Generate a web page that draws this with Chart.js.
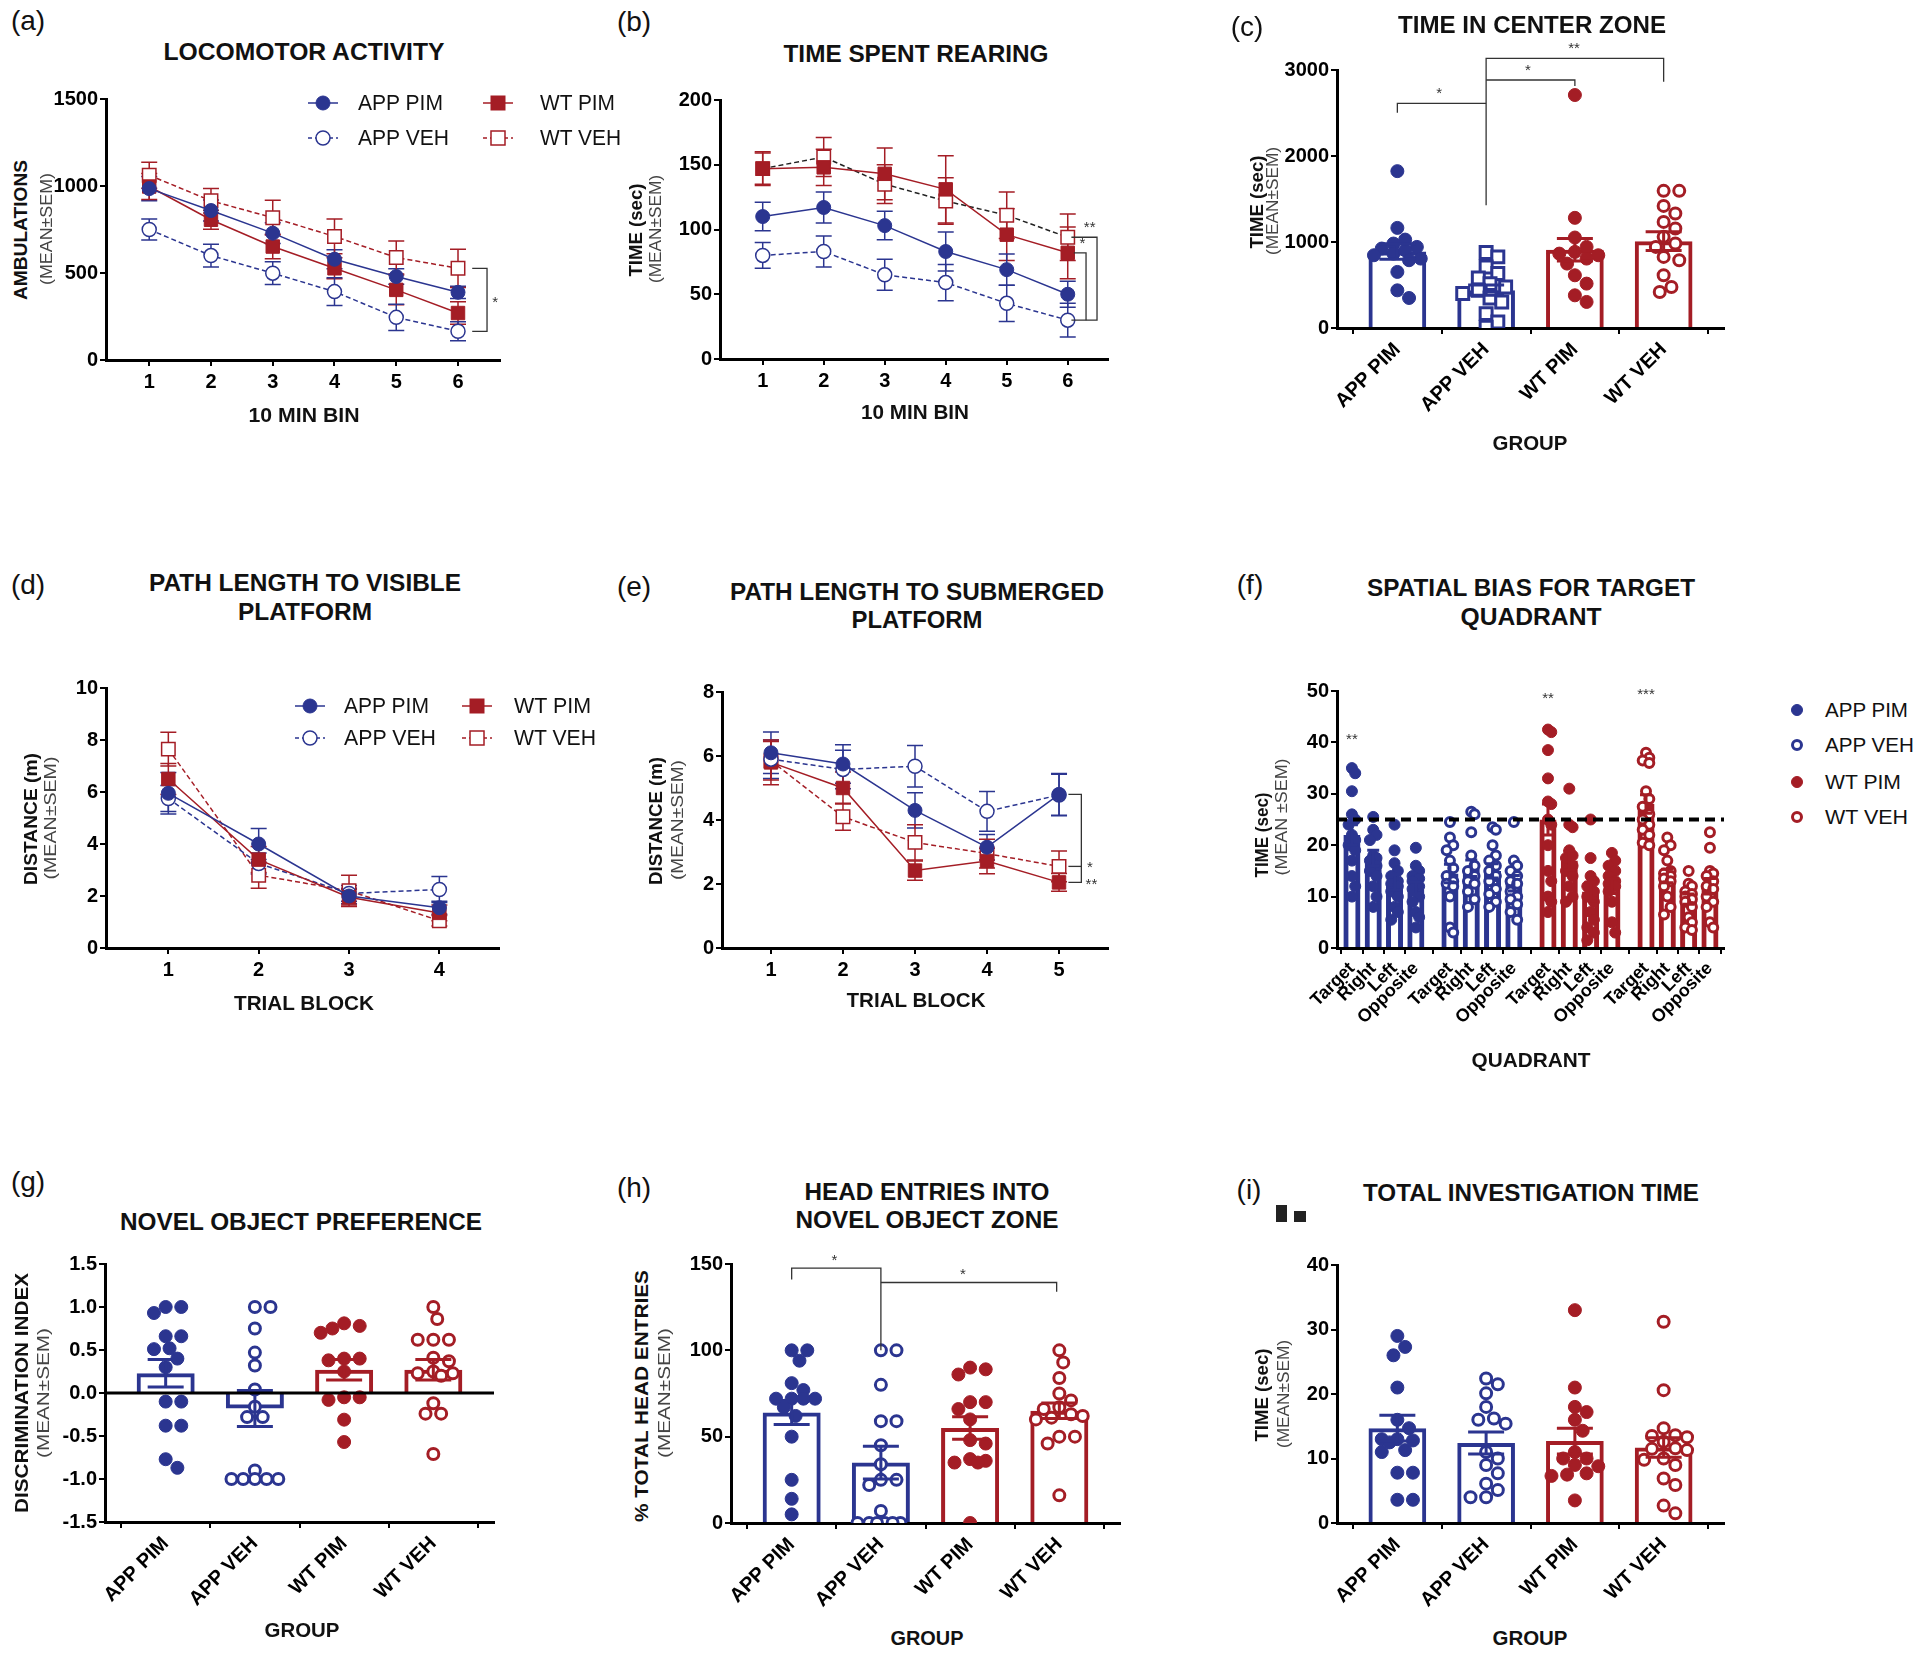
<!DOCTYPE html>
<html>
<head>
<meta charset="utf-8">
<script src="https://cdn.jsdelivr.net/npm/chart.js@4.4.1/dist/chart.umd.min.js"></script>
<style>
  html, body { margin: 0; padding: 0; background: #fff; }
  #page { position: relative; width: 1920px; height: 1657px; overflow: hidden; background: #fff; }
  canvas { position: absolute; }
  .txt { position: absolute; left: 0; top: 0; white-space: nowrap; line-height: 1; transform-origin: 0 0;
         color: #111; font-family: 'Liberation Sans', Arial, Helvetica, sans-serif; }
</style>
</head>
<body>
<div id="page"></div>
<script>
// ---- data ----
const groups = ['APP PIM', 'APP VEH', 'WT PIM', 'WT VEH'];
const quads = ['Target', 'Right', 'Left', 'Opposite'];

// (a) locomotor activity
const binsA = [1, 2, 3, 4, 5, 6];
const locoAppPim = [985, 859, 729, 579, 480, 389];
const locoAppVeh = [750, 600, 499, 393, 245, 165];
const locoWtPim = [997, 806, 652, 527, 403, 270];
const locoWtVeh = [1062, 915, 818, 710, 589, 527];
const locoAppPimSem = [70, 60, 60, 55, 45, 35];
const locoAppVehSem = [60, 65, 65, 80, 75, 55];
const locoWtPimSem = [75, 55, 70, 60, 85, 65];
const locoWtVehSem = [75, 70, 100, 100, 95, 110];

// (b) time spent rearing
const rearAppPim = [110, 117, 103, 83, 69, 50];
const rearAppVeh = [80, 83, 65, 59, 43, 30];
const rearWtPim = [147, 148, 143, 131, 96, 82];
const rearWtVeh = [147, 156, 135, 122, 111, 94];
const rearAppPimSem = [11, 12, 11, 15, 12, 10];
const rearAppVehSem = [10, 12, 12, 14, 14, 13];
const rearWtPimSem = [13, 14, 20, 26, 20, 20];
const rearWtVehSem = [12, 15, 15, 18, 18, 18];

// (c) time in center zone
const centerMean = [890, 440, 910, 1010];
const centerSem = [90, 60, 130, 110];
const centerAppPim = [1824, 1164, 1028, 982, 943, 924, 904, 865, 846, 807, 788, 652, 438, 349];
const centerAppVeh = [877, 827, 710, 633, 582, 516, 477, 438, 400, 349, 303, 167, 70, 10];
const centerWtPim = [2709, 1281, 1052, 943, 885, 865, 846, 807, 749, 613, 516, 380, 303];
const centerWtVeh = [1595, 1595, 1420, 1331, 1234, 1157, 1060, 982, 943, 827, 788, 613, 477, 419];

// (d) visible platform
const blocksD = [1, 2, 3, 4];
const visAppPim = [5.95, 4.0, 2.0, 1.55];
const visAppVeh = [5.75, 3.25, 2.1, 2.25];
const visWtPim = [6.5, 3.4, 1.95, 1.35];
const visWtVeh = [7.65, 2.8, 2.2, 1.05];
const visAppPimSem = [0.8, 0.6, 0.3, 0.25];
const visAppVehSem = [0.5, 0.4, 0.3, 0.5];
const visWtPimSem = [0.6, 0.5, 0.3, 0.3];
const visWtVehSem = [0.65, 0.5, 0.6, 0.2];

// (e) submerged platform
const blocksE = [1, 2, 3, 4, 5];
const subAppPim = [6.1, 5.75, 4.3, 3.15, 4.8];
const subAppVeh = [5.9, 5.58, 5.68, 4.27, 4.78];
const subWtPim = [5.8, 5.0, 2.42, 2.72, 2.05];
const subWtVeh = [5.85, 4.1, 3.3, 2.95, 2.55];
const subAppPimSem = [0.65, 0.6, 0.55, 0.4, 0.65];
const subAppVehSem = [0.6, 0.6, 0.65, 0.62, 0.65];
const subWtPimSem = [0.7, 0.5, 0.3, 0.4, 0.28];
const subWtVehSem = [0.6, 0.42, 0.55, 0.45, 0.48];

// (f) spatial bias, per group: Target, Right, Left, Opposite
const biasMean = [22, 17.5, 12.8, 11.6, 14.5, 15.5, 15, 12.6, 25, 17, 11, 12, 28, 14, 9.5, 12];
const biasSem = [2, 1.5, 1.5, 1.2, 1.8, 1.6, 1.4, 1.5, 3, 1.8, 1.8, 1.4, 1.8, 1.3, 1, 1.5];
const biasAppPim = [
  [35, 34, 30.5, 26, 25, 24, 22, 21, 20, 19, 17, 14, 12, 10],
  [25.5, 23, 22, 21, 18, 17.5, 17, 16, 15, 14, 12, 10, 8],
  [24, 19, 16.5, 15, 14, 13, 12.5, 12, 11, 10, 8, 7, 5.5],
  [19.5, 16, 15, 14, 13.5, 13, 12, 11.5, 10, 9, 7, 6, 4]];
const biasAppVeh = [
  [24.5, 21.5, 20, 19, 17, 15.5, 14, 13, 12.5, 12, 10, 4, 3],
  [26.5, 26, 22.5, 18, 16, 15, 14, 13, 12.5, 11, 9.5, 8],
  [23.5, 23, 20, 18, 17, 16, 15, 14, 13, 11.5, 10.5, 9, 8],
  [24.5, 17, 16, 15, 14, 13, 12.5, 11, 10, 9.5, 8.5, 7, 5.5]];
const biasWtPim = [
  [42.5, 42, 38.5, 33, 28.5, 28, 25, 24, 20, 15, 13, 10, 9, 7],
  [31, 24, 23.5, 19, 18, 17.5, 16, 15, 14, 12, 10, 9],
  [25, 17.5, 14, 13, 12, 11, 10, 9, 7, 5.5, 4, 3, 1.5],
  [18.5, 17, 16, 15, 14, 13, 12.5, 12, 11, 9, 5, 3]];
const biasWtVeh = [
  [38, 37, 36.5, 36, 30.5, 29, 27.5, 26, 25, 24, 23, 22, 20.5, 20],
  [21.5, 20, 19, 17, 15, 14.5, 14, 13.5, 13, 12, 10, 8, 6.5],
  [15, 12.5, 12, 11, 10.5, 10, 9.5, 9, 8, 6, 5, 4, 3.5],
  [22.5, 19.5, 15, 14.5, 14, 13, 12, 11.5, 10, 9, 8, 5, 4]];

// (g) novel object preference
const prefMean = [0.23, -0.18, 0.27, 0.27];
const prefSem = [0.16, 0.21, 0.12, 0.12];
const prefAppPim = [1.0, 1.0, 0.93, 0.66, 0.66, 0.52, 0.51, 0.40, 0.30, -0.10, -0.10, -0.38, -0.38, -0.77, -0.87];
const prefAppVeh = [1.0, 1.0, 0.75, 0.47, 0.32, 0.04, -0.16, -0.28, -0.28, -0.9, -1.0, -1.0, -1.0, -1.0, -1.0];
const prefWtPim = [0.81, 0.78, 0.75, 0.70, 0.40, 0.40, 0.38, 0.25, -0.05, -0.05, -0.08, -0.31, -0.57];
const prefWtVeh = [1.0, 0.86, 0.62, 0.62, 0.62, 0.41, 0.37, 0.25, 0.23, 0.23, 0.20, -0.12, -0.24, -0.24, -0.71];

// (h) head entries
const headMean = [64, 35, 55, 65];
const headSem = [7, 9.5, 6.5, 4.5];
const headAppPim = [100, 100, 94, 81, 77, 72, 72, 72, 72, 67, 62, 50, 25, 14, 5];
const headAppVeh = [100, 100, 80, 59, 59, 45, 34, 25, 25, 22, 7, 0, 0, 0, 0, 0, 0];
const headWtPim = [90, 89, 86, 70, 70, 66, 60, 48, 46, 37, 36, 35, 35, 0];
const headWtVeh = [100, 93, 84, 75, 71, 67, 66, 63, 62, 61, 60, 50, 50, 46, 16];

// (i) total investigation time
const invMean = [14.7, 12.4, 12.7, 11.7];
const invSem = [2.0, 1.7, 2.0, 1.5];
const invAppPim = [29, 27.3, 26, 21, 16, 14.7, 13, 13, 12.8, 12.5, 11.3, 11, 7.8, 7.8, 3.6, 3.6];
const invAppVeh = [22.4, 21.5, 20.1, 18, 16.2, 16, 15.4, 11, 10, 9, 7.7, 6.1, 5.1, 4, 4];
const invWtPim = [33, 21, 18, 17.2, 16, 14.3, 11, 10, 10, 9, 8.8, 7.7, 7.5, 7.3, 3.5];
const invWtVeh = [31.2, 20.6, 14.7, 13.6, 13.5, 13.3, 12.6, 11.6, 11.5, 11.3, 10, 9.8, 9, 6.9, 5.9, 2.7, 1.5];

// ---- style ----
const page = document.getElementById('page');
const FONT = "'Liberation Sans', Arial, Helvetica, sans-serif";
const BLUE = '#2b3590', RED = '#a41d25';
Chart.defaults.font.family = FONT;
Chart.defaults.color = '#000';

const S = {
  appPim: { color: BLUE, dash: [], shape: 'circle', fill: true },
  appVeh: { color: BLUE, dash: [5, 3], shape: 'circle', fill: false },
  wtPim: { color: RED, dash: [], shape: 'rect', fill: true },
  wtVeh: { color: RED, dash: [5, 3], shape: 'rect', fill: false }
};
const D = {
  fillB: { color: BLUE, shape: 'circle', fill: true },
  openB: { color: BLUE, shape: 'circle', fill: false },
  sqB: { color: BLUE, shape: 'rect', fill: false },
  fillR: { color: RED, shape: 'circle', fill: true },
  openR: { color: RED, shape: 'circle', fill: false }
};

// ---- plugins ----
function drawErr(chart, behind) {
  const ctx = chart.ctx, ys = chart.scales.y;
  chart.data.datasets.forEach((ds, i) => {
    if (!ds.sem || !!ds.errBehind !== behind) return;
    const meta = chart.getDatasetMeta(i);
    ctx.save();
    ctx.lineWidth = ds.errWidth || 1.5;
    meta.data.forEach((el, j) => {
      const v = ds.data[j].y, s = ds.sem[j], c = (ds.capW || 16) / 2;
      const y1 = ys.getPixelForValue(v + s), y2 = ys.getPixelForValue(v - s), x = el.x;
      ctx.strokeStyle = Array.isArray(ds.errColor) ? ds.errColor[j] : ds.errColor;
      ctx.beginPath();
      ctx.moveTo(x, y1); ctx.lineTo(x, y2);
      ctx.moveTo(x - c, y1); ctx.lineTo(x + c, y1);
      ctx.moveTo(x - c, y2); ctx.lineTo(x + c, y2);
      ctx.stroke();
    });
    ctx.restore();
  });
}
const errPlugin = {
  id: 'err',
  beforeDatasetsDraw(chart) { drawErr(chart, true); },
  afterDatasetsDraw(chart) { drawErr(chart, false); }
};

function annot(m) {
  return {
    id: 'annot',
    afterDatasetsDraw(chart) {
      const ctx = chart.ctx, xs = chart.scales.x, ys = chart.scales.y, a = chart.chartArea;
      ctx.save();
      (m.refs || []).forEach(r => {
        const y = ys.getPixelForValue(r.y);
        ctx.beginPath(); ctx.setLineDash(r.dash || []); ctx.lineWidth = r.w; ctx.strokeStyle = '#000';
        ctx.moveTo(a.left, y); ctx.lineTo(a.right, y); ctx.stroke();
      });
      ctx.setLineDash([]);
      ctx.lineWidth = 1.3; ctx.strokeStyle = '#333';
      (m.lines || []).forEach(pl => {
        ctx.beginPath();
        pl.forEach(([x, y], k) => {
          const px = xs.getPixelForValue(x), py = ys.getPixelForValue(y);
          if (k) ctx.lineTo(px, py); else ctx.moveTo(px, py);
        });
        ctx.stroke();
      });
      ctx.fillStyle = '#333'; ctx.font = '15px ' + FONT;
      ctx.textAlign = 'center'; ctx.textBaseline = 'middle';
      (m.stars || []).forEach(s => ctx.fillText(s.t, xs.getPixelForValue(s.x), ys.getPixelForValue(s.y)));
      ctx.restore();
    }
  };
}

// ---- helpers ----
const tickFont = { family: FONT, size: 20, weight: 'bold' };

function panel(box, cfg) {
  const yW = 75, padT = cfg.padT || 20, padR = cfg.padR || 40, xH = cfg.xH || 45;
  const cv = document.createElement('canvas');
  cv.width = box.r - box.l + yW + padR;
  cv.height = box.b - box.t + padT + xH;
  cv.style.left = (box.l - yW) + 'px';
  cv.style.top = (box.t - padT) + 'px';
  page.appendChild(cv);
  const grid = { drawOnChartArea: false, drawTicks: true, tickLength: 6, color: '#000', lineWidth: 2 };
  const border = { display: true, color: '#000', width: 3 };
  return new Chart(cv, {
    type: 'line',
    data: { datasets: cfg.datasets },
    options: {
      responsive: false, animation: false, devicePixelRatio: 1,
      layout: { padding: { top: padT, right: padR, left: 0, bottom: 0 } },
      plugins: { legend: { display: false }, tooltip: { enabled: false } },
      scales: {
        x: {
          type: 'linear', min: cfg.xMin, max: cfg.xMax, offset: false,
          afterBuildTicks: s => { s.ticks = cfg.xTicks.map(v => ({ value: v })); },
          afterFit: s => { s.height = xH; s.paddingLeft = 0; s.paddingRight = 0; },
          ticks: { autoSkip: false, minRotation: cfg.rot || 0, maxRotation: cfg.rot || 0, padding: 4,
                   font: cfg.xFont || tickFont, color: '#000', callback: cfg.xLabel || (v => v) },
          grid, border
        },
        y: {
          min: cfg.yMin, max: cfg.yMax,
          afterFit: s => { s.width = yW; s.paddingTop = 0; s.paddingBottom = 0; },
          ticks: { stepSize: cfg.yStep, padding: 2, font: tickFont, color: '#000', callback: cfg.yFmt || (v => v) },
          grid, border
        }
      }
    },
    plugins: [errPlugin, annot(cfg.marks || {})]
  });
}

function lineSet(xs, ys, sem, st, lineColor) {
  return {
    type: 'line', data: xs.map((x, i) => ({ x, y: ys[i] })), sem, errBehind: true, capW: 16, errWidth: 1.5,
    errColor: st.color, borderColor: lineColor || st.color, borderWidth: 1.5, borderDash: st.dash,
    tension: 0, fill: false, pointStyle: st.shape, pointRadius: st.shape === 'rect' ? 9.5 : 7,
    pointBackgroundColor: st.fill ? st.color : '#fff', pointBorderColor: st.color, pointBorderWidth: st.fill ? 1 : 1.5
  };
}

// simple beeswarm: spread points sideways (in px) so they do not overlap
function swarm(vals, cx, pxX, pxY, r, maxPx) {
  const placed = [], out = [];
  const idx = vals.map((v, i) => i).sort((a, b) => vals[b] - vals[a]);
  idx.forEach(i => {
    const y = vals[i] * pxY;
    let best = 0, bestD = -1;
    for (let k = 0; k < 80; k++) {
      const dx = (k % 2 ? 1 : -1) * Math.ceil(k / 2) * r * 0.6;
      if (Math.abs(dx) > maxPx) break;
      let d = Infinity;
      placed.forEach(p => { d = Math.min(d, Math.hypot(p.x - dx, p.y - y)); });
      if (d >= 2 * r * 0.95) { best = dx; break; }
      if (d > bestD) { bestD = d; best = dx; }
    }
    placed.push({ x: best, y });
    out[i] = { x: cx + best / pxX, y: vals[i] };
  });
  return out;
}

function dotSets(box, cfg, means, sems, colors, pts) {
  const pxX = (box.r - box.l) / (cfg.xMax - cfg.xMin), pxY = (box.b - box.t) / (cfg.yMax - cfg.yMin);
  const r = cfg.r || 6.5;
  const sets = [{
    type: 'bar', order: 5, data: means.map((m, i) => ({ x: cfg.xTicks[i], y: m })),
    sem: sems, errColor: colors, errWidth: 3, capW: cfg.capW || 36,
    backgroundColor: 'rgba(255,255,255,0)', borderColor: colors, borderWidth: cfg.bw || 4,
    borderSkipped: 'start', barPercentage: cfg.barPct || 0.65, categoryPercentage: 1
  }];
  pts.forEach(p => {
    const st = p.st;
    sets.push({
      type: 'scatter', order: 1, showLine: false,
      data: swarm(p.vals, p.x, pxX, pxY, r, cfg.maxPx || 26),
      pointStyle: st.shape, pointRadius: st.shape === 'rect' ? r * 1.3 : (st.fill ? r : r - 1),
      pointBackgroundColor: st.fill ? st.color : '#fff', pointBorderColor: st.color,
      pointBorderWidth: st.fill ? 1 : 3
    });
  });
  return sets;
}

function txt(t, cx, cy, size, bold, w, rot, color, left) {
  const d = document.createElement('div');
  d.className = 'txt';
  d.textContent = t;
  d.style.fontSize = size + 'px';
  d.style.fontWeight = bold ? 'bold' : 'normal';
  if (color) d.style.color = color;
  page.appendChild(d);
  const sx = w ? w / d.getBoundingClientRect().width : 1;
  d.style.transform = `translate(${cx}px, ${cy}px) rotate(${rot || 0}deg) scaleX(${sx}) translate(${left ? 0 : '-50%'}, -50%)`;
}

const NS = 'http://www.w3.org/2000/svg';
function sym(cx, cy, st, line, r, sw) {
  const s = document.createElementNS(NS, 'svg');
  s.setAttribute('width', 40); s.setAttribute('height', 24);
  s.style.cssText = `position:absolute;left:${cx - 20}px;top:${cy - 12}px;overflow:visible`;
  let h = '';
  if (line) h += `<line x1="5" y1="12" x2="35" y2="12" stroke="${st.color}" stroke-width="1.5"${st.dash.length ? ' stroke-dasharray="4 3"' : ''}/>`;
  const fill = st.fill ? st.color : '#fff';
  if (st.shape === 'rect') h += `<rect x="${20 - r}" y="${12 - r}" width="${2 * r}" height="${2 * r}" fill="${fill}" stroke="${st.color}" stroke-width="${sw}"/>`;
  else h += `<circle cx="20" cy="12" r="${r}" fill="${fill}" stroke="${st.color}" stroke-width="${sw}"/>`;
  s.innerHTML = h;
  page.appendChild(s);
}

const grpX = [0, 1, 2, 3];
const grpColors = [BLUE, BLUE, RED, RED];
const grpLabel = (v, i) => groups[i];
const grpFont = { family: FONT, size: 20, weight: 'bold' };

// ---- (a) ----
panel({ l: 106, t: 99, r: 500, b: 360 }, {
  xMin: 0.3, xMax: 6.68, xTicks: binsA, yMin: 0, yMax: 1500, yStep: 500,
  datasets: [
    lineSet(binsA, locoAppPim, locoAppPimSem, S.appPim),
    lineSet(binsA, locoWtPim, locoWtPimSem, S.wtPim),
    lineSet(binsA, locoAppVeh, locoAppVehSem, S.appVeh),
    lineSet(binsA, locoWtVeh, locoWtVehSem, S.wtVeh)
  ],
  marks: {
    lines: [[[6.23, locoWtVeh[5]], [6.47, locoWtVeh[5]], [6.47, locoAppVeh[5]], [6.23, locoAppVeh[5]]]],
    stars: [{ x: 6.6, y: 330, t: '*' }]
  }
});

// ---- (b) ----
panel({ l: 720, t: 100, r: 1108, b: 359 }, {
  xMin: 0.3, xMax: 6.66, xTicks: binsA, yMin: 0, yMax: 200, yStep: 50,
  datasets: [
    lineSet(binsA, rearWtPim, rearWtPimSem, S.wtPim),
    lineSet(binsA, rearWtVeh, rearWtVehSem, S.wtVeh, '#222'),
    lineSet(binsA, rearAppPim, rearAppPimSem, S.appPim),
    lineSet(binsA, rearAppVeh, rearAppVehSem, S.appVeh)
  ],
  marks: {
    lines: [
      [[6.06, rearWtVeh[5]], [6.48, rearWtVeh[5]], [6.48, rearAppVeh[5]], [6.06, rearAppVeh[5]]],
      [[6.1, rearWtPim[5]], [6.3, rearWtPim[5]], [6.3, rearAppVeh[5]]]
    ],
    stars: [{ x: 6.36, y: 101, t: '**' }, { x: 6.24, y: 89, t: '*' }]
  }
});

// ---- (c) ----
const boxC = { l: 1337, t: 70, r: 1724, b: 328 };
const cfgC = { xMin: -0.68, xMax: 3.68, xTicks: grpX, yMin: 0, yMax: 3000, yStep: 1000 };
panel(boxC, Object.assign({}, cfgC, {
  padT: 40, xH: 110, rot: 45, xFont: grpFont, xLabel: grpLabel,
  datasets: dotSets(boxC, cfgC, centerMean, centerSem, grpColors, [
    { vals: centerAppPim, x: 0, st: D.fillB }, { vals: centerAppVeh, x: 1, st: D.sqB },
    { vals: centerWtPim, x: 2, st: D.fillR }, { vals: centerWtVeh, x: 3, st: D.openR }]),
  marks: {
    lines: [
      [[0, 2503], [0, 2612], [1, 2612]],
      [[1, 1428], [1, 3136], [3, 3136], [3, 2864]],
      [[1, 2884], [2, 2884], [2, 2814]]
    ],
    stars: [{ x: 0.47, y: 2720, t: '*' }, { x: 1.47, y: 2990, t: '*' }, { x: 1.99, y: 3250, t: '**' }]
  }
}));

// ---- (d) ----
panel({ l: 106, t: 688, r: 499, b: 948 }, {
  xMin: 0.31, xMax: 4.66, xTicks: blocksD, yMin: 0, yMax: 10, yStep: 2,
  datasets: [
    lineSet(blocksD, visAppPim, visAppPimSem, S.appPim),
    lineSet(blocksD, visWtPim, visWtPimSem, S.wtPim),
    lineSet(blocksD, visAppVeh, visAppVehSem, S.appVeh),
    lineSet(blocksD, visWtVeh, visWtVehSem, S.wtVeh)
  ]
});

// ---- (e) ----
panel({ l: 722, t: 692, r: 1108, b: 948 }, {
  xMin: 0.32, xMax: 5.68, xTicks: blocksE, yMin: 0, yMax: 8, yStep: 2,
  datasets: [
    lineSet(blocksE, subAppPim, subAppPimSem, S.appPim),
    lineSet(blocksE, subAppVeh, subAppVehSem, S.appVeh),
    lineSet(blocksE, subWtPim, subWtPimSem, S.wtPim),
    lineSet(blocksE, subWtVeh, subWtVehSem, S.wtVeh)
  ],
  marks: {
    lines: [
      [[5.13, subAppPim[4]], [5.31, subAppPim[4]], [5.31, subWtPim[4]], [5.13, subWtPim[4]]],
      [[5.13, subWtVeh[4]], [5.31, subWtVeh[4]]]
    ],
    stars: [{ x: 5.43, y: 2.52, t: '*' }, { x: 5.45, y: 1.98, t: '**' }]
  }
});

// ---- (f) ----
const boxF = { l: 1337, t: 691, r: 1724, b: 948 };
const fPos = [];
[0, 1, 2, 3].forEach(g => quads.forEach((q, k) => fPos.push(g * 4.6 + k)));
const cfgF = { xMin: -0.7, xMax: 17.46, xTicks: fPos, yMin: 0, yMax: 50, yStep: 10, r: 5.5, maxPx: 5,
               capW: 12, bw: 5, barPct: 0.8 };
const fColors = fPos.map((p, i) => (i < 8 ? BLUE : RED));
const fPts = [];
[[biasAppPim, D.fillB], [biasAppVeh, D.openB], [biasWtPim, D.fillR], [biasWtVeh, D.openR]].forEach(([grp, st], g) => {
  grp.forEach((vals, k) => fPts.push({ vals, x: fPos[g * 4 + k], st }));
});
panel(boxF, Object.assign({}, cfgF, {
  xH: 110, rot: 45, xFont: { family: FONT, size: 18, weight: 'bold' }, xLabel: (v, i) => quads[i % 4],
  datasets: dotSets(boxF, cfgF, biasMean, biasSem, fColors, fPts),
  marks: {
    refs: [{ y: 25, w: 4, dash: [10, 6] }],
    stars: [{ x: fPos[0], y: 40.5, t: '**' }, { x: fPos[8], y: 48.5, t: '**' }, { x: fPos[12], y: 49.3, t: '***' }]
  }
}));

// ---- (g) ----
const boxG = { l: 105, t: 1264, r: 494, b: 1522 };
const cfgG = { xMin: -0.68, xMax: 3.68, xTicks: grpX, yMin: -1.5, yMax: 1.5, yStep: 0.5 };
panel(boxG, Object.assign({}, cfgG, {
  xH: 100, rot: 45, xFont: grpFont, xLabel: grpLabel, yFmt: v => v.toFixed(1),
  datasets: dotSets(boxG, cfgG, prefMean, prefSem, grpColors, [
    { vals: prefAppPim, x: 0, st: D.fillB }, { vals: prefAppVeh, x: 1, st: D.openB },
    { vals: prefWtPim, x: 2, st: D.fillR }, { vals: prefWtVeh, x: 3, st: D.openR }]),
  marks: { refs: [{ y: 0, w: 3 }] }
}));

// ---- (h) ----
const boxH = { l: 731, t: 1264, r: 1120, b: 1523 };
const cfgH = { xMin: -0.68, xMax: 3.68, xTicks: grpX, yMin: 0, yMax: 150, yStep: 50 };
panel(boxH, Object.assign({}, cfgH, {
  xH: 100, rot: 45, xFont: grpFont, xLabel: grpLabel,
  datasets: dotSets(boxH, cfgH, headMean, headSem, grpColors, [
    { vals: headAppPim, x: 0, st: D.fillB }, { vals: headAppVeh, x: 1, st: D.openB },
    { vals: headWtPim, x: 2, st: D.fillR }, { vals: headWtVeh, x: 3, st: D.openR }]),
  marks: {
    lines: [
      [[0, 141], [0, 147.6], [1, 147.6], [1, 100]],
      [[1, 139.3], [2.97, 139.3], [2.97, 134]]
    ],
    stars: [{ x: 0.48, y: 152, t: '*' }, { x: 1.92, y: 144, t: '*' }]
  }
}));

// ---- (i) ----
const boxI = { l: 1337, t: 1265, r: 1724, b: 1523 };
const cfgI = { xMin: -0.68, xMax: 3.68, xTicks: grpX, yMin: 0, yMax: 40, yStep: 10 };
panel(boxI, Object.assign({}, cfgI, {
  xH: 100, rot: 45, xFont: grpFont, xLabel: grpLabel,
  datasets: dotSets(boxI, cfgI, invMean, invSem, grpColors, [
    { vals: invAppPim, x: 0, st: D.fillB }, { vals: invAppVeh, x: 1, st: D.openB },
    { vals: invWtPim, x: 2, st: D.fillR }, { vals: invWtVeh, x: 3, st: D.openR }])
}));

// ---- text ----
// panel letters
[['(a)', 28, 21], ['(b)', 634, 22], ['(c)', 1247, 27], ['(d)', 28, 585], ['(e)', 634, 587],
 ['(f)', 1250, 585], ['(g)', 28, 1182], ['(h)', 634, 1188], ['(i)', 1249, 1190]]
  .forEach(([t, x, y]) => txt(t, x, y, 28, false));

// titles
[['LOCOMOTOR ACTIVITY', 304, 52, 281], ['TIME SPENT REARING', 916, 54, 265],
 ['TIME IN CENTER ZONE', 1532, 25, 268],
 ['PATH LENGTH TO VISIBLE', 305, 583, 312], ['PLATFORM', 305, 612, 134],
 ['PATH LENGTH TO SUBMERGED', 917, 592, 374], ['PLATFORM', 917, 620, 131],
 ['SPATIAL BIAS FOR TARGET', 1531, 588, 328], ['QUADRANT', 1531, 617, 141],
 ['NOVEL OBJECT PREFERENCE', 301, 1222, 362],
 ['HEAD ENTRIES INTO', 927, 1192, 245], ['NOVEL OBJECT ZONE', 927, 1220, 263],
 ['TOTAL INVESTIGATION TIME', 1531, 1193, 336]]
  .forEach(([t, x, y, w]) => txt(t, x, y, 24, true, w));

// x-axis titles
[['10 MIN BIN', 304, 415, 111], ['10 MIN BIN', 915, 412, 108], ['GROUP', 1530, 443, 75],
 ['TRIAL BLOCK', 304, 1003, 140], ['TRIAL BLOCK', 916, 1000, 139], ['QUADRANT', 1531, 1060, 119],
 ['GROUP', 302, 1630, 75], ['GROUP', 927, 1638, 73], ['GROUP', 1530, 1638, 75]]
  .forEach(([t, x, y, w]) => txt(t, x, y, 20, true, w));

// y-axis titles: bold line, then the (MEAN±SEM) line
[['AMBULATIONS', 20, 230, 140, 47, 229, 112, '(MEAN±SEM)'],
 ['TIME (sec)', 635, 230, 93, 656, 229, 108, '(MEAN±SEM)'],
 ['TIME (sec)', 1256, 202, 93, 1273, 201, 108, '(MEAN±SEM)'],
 ['DISTANCE (m)', 30, 819, 132, 51, 818, 123, '(MEAN±SEM)'],
 ['DISTANCE (m)', 655, 821, 128, 678, 820, 120, '(MEAN±SEM)'],
 ['TIME (sec)', 1261, 835, 85, 1282, 817, 117, '(MEAN ±SEM)'],
 ['DISCRIMINATION INDEX', 21, 1393, 240, 44, 1393, 130, '(MEAN±SEM)'],
 ['% TOTAL HEAD ENTRIES', 641, 1396, 252, 665, 1393, 130, '(MEAN±SEM)'],
 ['TIME (sec)', 1261, 1395, 93, 1284, 1394, 108, '(MEAN±SEM)']]
  .forEach(([t, x, y, w, x2, y2, w2, t2]) => {
    txt(t, x, y, 19, true, w, -90);
    txt(t2, x2, y2, 16, false, w2, -90, '#444');
  });

// legends (a) and (d)
[[103, 138, 323, 498, 358, 540, [85, 75, 91, 81]],
 [706, 738, 310, 477, 344, 514, [85, 77, 92, 82]]]
  .forEach(([y1, y2, sx1, sx2, tx1, tx2, w]) => {
    sym(sx1, y1, S.appPim, true, 7, 1); txt('APP PIM', tx1, y1, 22, false, w[0], 0, null, true);
    sym(sx2, y1, S.wtPim, true, 7, 1); txt('WT PIM', tx2, y1, 22, false, w[1], 0, null, true);
    sym(sx1, y2, S.appVeh, true, 7, 1.5); txt('APP VEH', tx1, y2, 22, false, w[2], 0, null, true);
    sym(sx2, y2, S.wtVeh, true, 7, 1.5); txt('WT VEH', tx2, y2, 22, false, w[3], 0, null, true);
  });

// legend (f)
[[710, D.fillB, 83], [745, D.openB, 89], [782, D.fillR, 76], [817, D.openR, 83]].forEach(([y, st, w], i) => {
  sym(1797, y, st, false, st.fill ? 5.5 : 4.5, st.fill ? 1 : 3);
  txt(groups[i], 1825, y, 20, false, w, 0, null, true);
});

// small dark marks next to (i)
[[1276, 1205, 11, 17], [1294, 1211, 12, 11]].forEach(([x, y, w, h]) => {
  const b = document.createElement('div');
  b.style.cssText = `position:absolute;left:${x}px;top:${y}px;width:${w}px;height:${h}px;background:#222`;
  page.appendChild(b);
});
</script>
</body>
</html>
